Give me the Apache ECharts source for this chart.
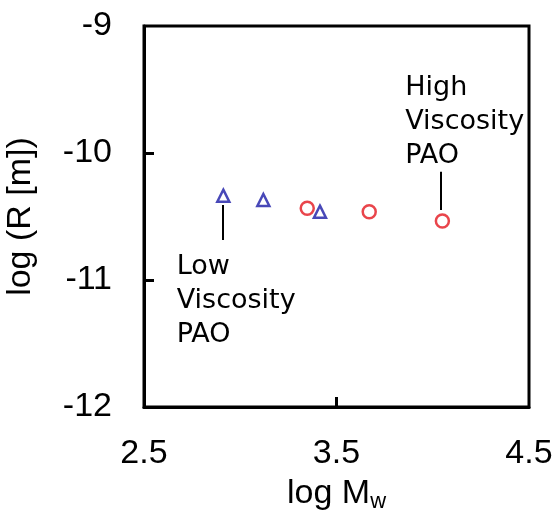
<!DOCTYPE html>
<html>
<head>
<meta charset="utf-8">
<style>
  html, body { margin: 0; padding: 0; background: #fff; }
  #chart { width: 555px; height: 514px; }
</style>
<script src="https://cdn.jsdelivr.net/npm/echarts@6/dist/echarts.min.js"></script>
</head>
<body>
<div id="chart"></div>
<script>
// log Mw vs log R for the two PAO grades
const lowViscosity = [[2.912, -10.336], [3.12, -10.37], [3.414, -10.462]];
const highViscosity = [[3.348, -10.435], [3.67, -10.462], [4.05, -10.535]];

const xLabelValues = [2.5, 3.5, 4.5];
const xTickValues = [3.5];
const yLabelValues = [-12, -11, -10, -9];
const yTickValues = [-11, -10];

// leader lines and their captions, in data units
const lowLeader = [[2.907, -10.41], [2.907, -10.685]];
const highLeader = [[4.041, -10.147], [4.041, -10.449]];
const lowCaption = { at: [2.67, -10.76], lines: ['Low', 'Viscosity', 'PAO'] };
const highCaption = { at: [3.857, -9.355], lines: ['High', 'Viscosity', 'PAO'] };

const axisFont = 'Liberation Sans, Arial, sans-serif';
const noteFont = 'DejaVu Sans, Verdana, sans-serif';

const chart = echarts.init(document.getElementById('chart'));

const leaderStyle = { color: '#000', width: 2, type: 'solid' };

chart.setOption({
  animation: false,
  grid: {
    left: 144, right: 26, top: 26, bottom: 107,
    outerBoundsMode: 'none', containLabel: false,
    show: true, borderColor: '#000', borderWidth: 3, backgroundColor: 'transparent'
  },
  xAxis: {
    type: 'value', min: 2.5, max: 4.5,
    name: 'log M{sub|w}', nameLocation: 'middle', nameGap: 68,
    nameTextStyle: {
      fontFamily: axisFont, fontSize: 34, color: '#000',
      rich: { sub: { fontFamily: axisFont, fontSize: 22, color: '#000', padding: [16, 0, 0, 0] } }
    },
    axisLine: { show: true, onZero: false, lineStyle: { color: '#000', width: 3 } },
    axisTick: { show: true, inside: true, length: 10, customValues: xTickValues, lineStyle: { color: '#000', width: 3 } },
    axisLabel: {
      customValues: xLabelValues, margin: 30,
      fontFamily: axisFont, fontSize: 34, color: '#000',
      formatter: v => v.toFixed(1)
    },
    splitLine: { show: false }
  },
  yAxis: {
    type: 'value', min: -12, max: -9,
    name: 'log (R [m])', nameLocation: 'middle', nameGap: 106, nameRotate: 90,
    nameTextStyle: { fontFamily: axisFont, fontSize: 34, color: '#000' },
    axisLine: { show: true, onZero: false, lineStyle: { color: '#000', width: 3 } },
    axisTick: { show: true, inside: true, length: 10, customValues: yTickValues, lineStyle: { color: '#000', width: 3 } },
    axisLabel: {
      customValues: yLabelValues, margin: 32,
      fontFamily: axisFont, fontSize: 34, color: '#000',
      formatter: v => String(v)
    },
    splitLine: { show: false }
  },
  series: [
    {
      name: 'Low Viscosity PAO',
      type: 'scatter',
      data: lowViscosity,
      symbol: 'triangle',
      symbolSize: 12,
      itemStyle: { color: '#fff', borderColor: '#1a1aa6', borderWidth: 2.5 },
      markLine: {
        silent: true, symbol: 'none', label: { show: false },
        lineStyle: leaderStyle,
        data: [[{ coord: lowLeader[0] }, { coord: lowLeader[1] }]]
      }
    },
    {
      name: 'High Viscosity PAO',
      type: 'scatter',
      data: highViscosity,
      symbol: 'circle',
      symbolSize: 13,
      itemStyle: { color: '#fff', borderColor: '#e3161e', borderWidth: 2.5 },
      markLine: {
        silent: true, symbol: 'none', label: { show: false },
        lineStyle: leaderStyle,
        data: [[{ coord: highLeader[0] }, { coord: highLeader[1] }]]
      }
    }
  ]
});

// captions placed at their data anchors
function caption(c) {
  const p = chart.convertToPixel({ gridIndex: 0 }, c.at);
  return {
    type: 'text', x: p[0], y: p[1], silent: true,
    style: {
      text: c.lines.join('\n'),
      fontFamily: noteFont, fontSize: 27, lineHeight: 34,
      fill: '#000', align: 'left', verticalAlign: 'top'
    }
  };
}
chart.setOption({ graphic: [caption(lowCaption), caption(highCaption)] });
</script>
</body>
</html>
